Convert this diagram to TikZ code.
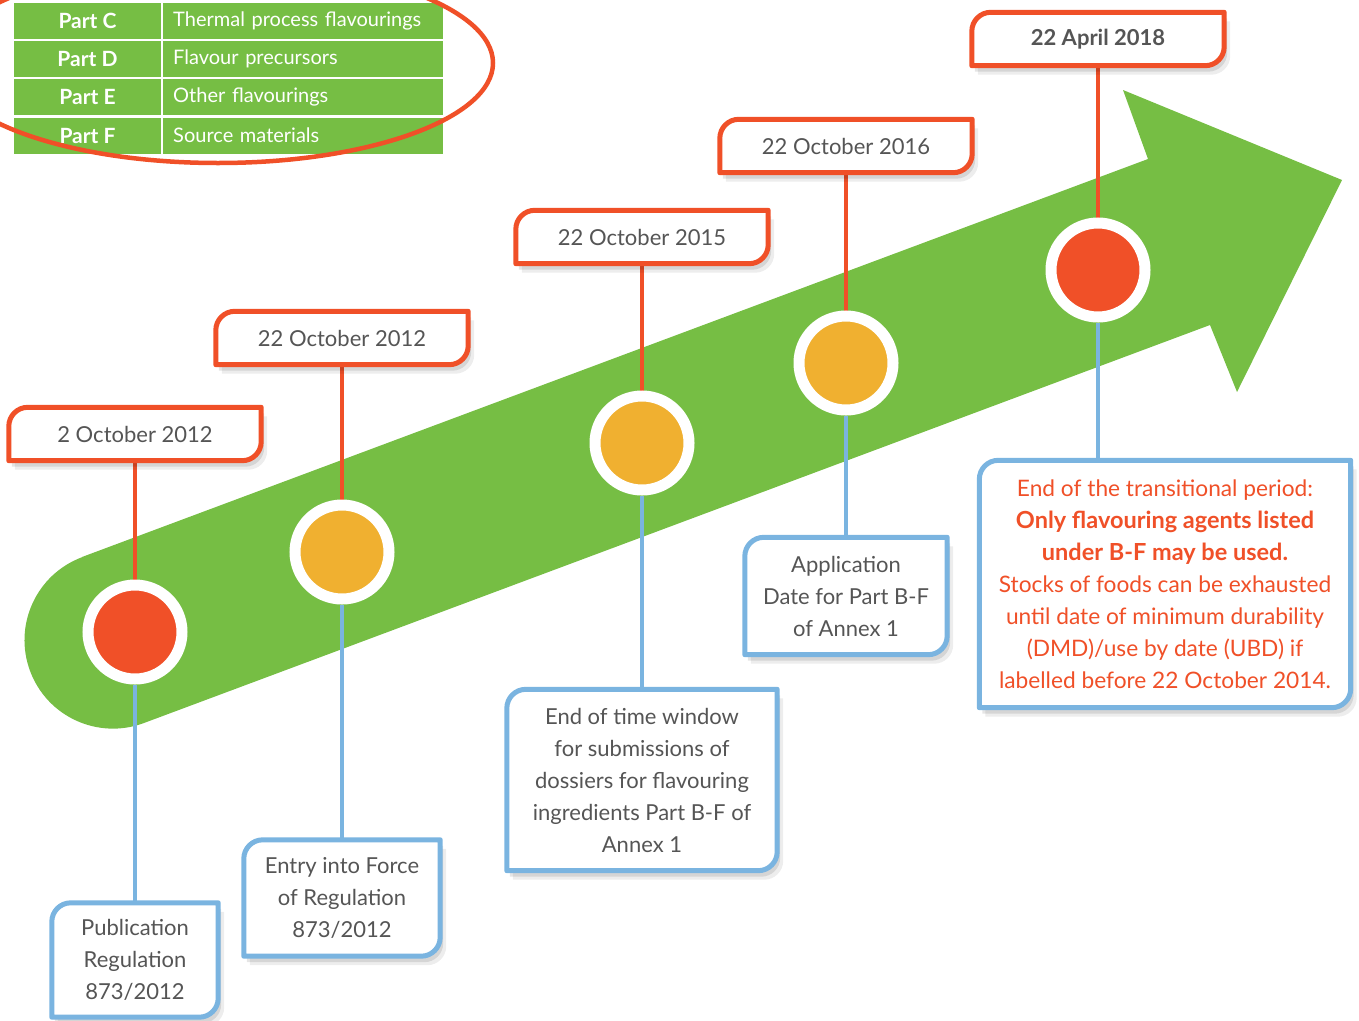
\documentclass[tikz,border=0pt]{standalone}
\usepackage{fontspec}
\setmainfont{Lato}
\usetikzlibrary{positioning,shadows,calc}

\definecolor{tlred}{RGB}{240,80,40}
\definecolor{tlorange}{RGB}{240,176,48}
\definecolor{tlgreen}{RGB}{118,190,68}
\definecolor{tlblue}{RGB}{122,180,224}
\definecolor{tlgrey}{RGB}{85,85,85}

\pgfdeclarelayer{back}
\pgfsetlayers{back,main}

\tikzstyle{dot} = [circle, draw=white, line width=11pt, minimum size=94pt, inner sep=0pt]
\tikzstyle{datebox} = [minimum width=252pt, minimum height=53pt, inner sep=0pt, text=tlgrey, font=\fontsize{22}{32}\selectfont]
\tikzstyle{notebox} = [inner sep=0pt, align=center, text=tlgrey, font=\fontsize{22}{32}\selectfont]
\tikzstyle{stem} = [line width=4.5pt]
\tikzstyle{boxshade} = [drop shadow={shadow xshift=3pt, shadow yshift=-6pt, opacity=0.10, fill=black}, drop shadow={shadow xshift=6pt, shadow yshift=-9pt, opacity=0.07, fill=black}]
\tikzstyle{partcell} = [fill=tlgreen, text=white, minimum width=147pt, minimum height=36pt, inner sep=0pt, font=\fontsize{21}{22}\selectfont\bfseries]
\tikzstyle{desccell} = [fill=tlgreen, text=white, minimum height=36pt, text width=260pt, inner xsep=10pt, inner ysep=0pt, align=left, font=\fontsize{20}{22}\selectfont]

% frame with round top-left and bottom-right corners
\newcommand{\tagframe}[2]{%
  \draw[#2, line width=5pt, fill=white, boxshade, line join=round]
    (#1.south west) -- ($(#1.north west)+(0,-19)$)
    .. controls ($(#1.north west)+(0,-8.5)$) and ($(#1.north west)+(8.5,0)$) .. ($(#1.north west)+(19,0)$)
    -- (#1.north east) -- ($(#1.south east)+(0,19)$)
    .. controls ($(#1.south east)+(0,8.5)$) and ($(#1.south east)+(-8.5,0)$) .. ($(#1.south east)+(-19,0)$)
    -- cycle;}

\begin{document}
\begin{tikzpicture}[x=1pt, y=1pt, node distance=2cm]
	\useasboundingbox (0,0) rectangle (1359,-1020);

	% parts table
	\foreach \part/\desc [count=\i from 0] in {C/Thermal process flavourings, D/Flavour precursors, E/Other flavourings, F/Source materials}
	{
		\node[partcell] (part\part) at (87.5,{-21-38.2*\i}) {Part \part};
		\node[desccell, anchor=west] (desc\part) at (163,{-21-38.2*\i}) {\desc};
	}
	\draw[tlred, line width=4.5pt] (218,-63) ellipse [x radius=275pt, y radius=100pt];

	% milestones
	\node[dot, fill=tlred] (c1) at (135,-632) {};
	\node[dot, fill=tlorange] (c2) at (342,-552) {};
	\node[dot, fill=tlorange] (c3) at (642,-443) {};
	\node[dot, fill=tlorange] (c4) at (846,-363) {};
	\node[dot, fill=tlred] (c5) at (1098,-270) {};

	\node[datebox, above of=c1, node distance=198pt] (d1) {2 October 2012};
	\node[datebox, above of=c2, node distance=214pt] (d2) {22 October 2012};
	\node[datebox, above of=c3, node distance=206pt] (d3) {22 October 2015};
	\node[datebox, above of=c4, node distance=217pt] (d4) {22 October 2016};
	\node[datebox, above of=c5, node distance=231pt, font=\fontsize{22}{32}\selectfont\bfseries] (d5) {22 April 2018};

	\node[notebox, minimum width=166pt, minimum height=114pt, below of=c1, node distance=328pt] (b1) {Publication\\Regulation\\873/2012};
	\node[notebox, minimum width=196pt, minimum height=116pt, below of=c2, node distance=346pt] (b2) {Entry into Force\\of Regulation\\873/2012};
	\node[notebox, minimum width=270pt, minimum height=181pt, below of=c3, node distance=337pt] (b3) {End of time window\\for submissions of\\dossiers for flavouring\\ingredients Part B-F of\\Annex 1};
	\node[notebox, minimum width=202pt, minimum height=117pt, below of=c4, node distance=233pt] (b4) {Application\\Date for Part B-F\\of Annex 1};
	\node[notebox, text=tlred, minimum width=371pt, minimum height=247pt, below of=c5, node distance=314pt, xshift=67pt, font=\fontsize{22.7}{32}\selectfont] (b5) {End of the transitional period:\\{\fontsize{23.5}{32}\selectfont\bfseries Only flavouring agents listed}\\{\fontsize{23.5}{32}\selectfont\bfseries under B-F may be used.}\\Stocks of foods can be exhausted\\until date of minimum durability\\(DMD)/use by date (UBD) if\\labelled before 22 October 2014.};

	\begin{pgfonlayer}{back}
		% big arrow
		\fill[tlgreen] (82,-557) -- (1148,-159) -- (1123,-90) -- (1342,-180) -- (1237,-392) -- (1210,-325) -- (144,-723) arc[start angle=-69.5, end angle=-249.5, radius=88.5pt] -- cycle;
		\foreach \n in {1,...,5}
		{
			\draw[stem, tlred] (c\n) -- (c\n |- d\n.south);
			\draw[stem, tlblue] (c\n) -- (c\n |- b\n.north);
		}
		\foreach \n in {1,...,5} {\tagframe{d\n}{tlred}}
		\foreach \n in {1,...,5} {\tagframe{b\n}{tlblue}}
	\end{pgfonlayer}
\end{tikzpicture}
\end{document}
